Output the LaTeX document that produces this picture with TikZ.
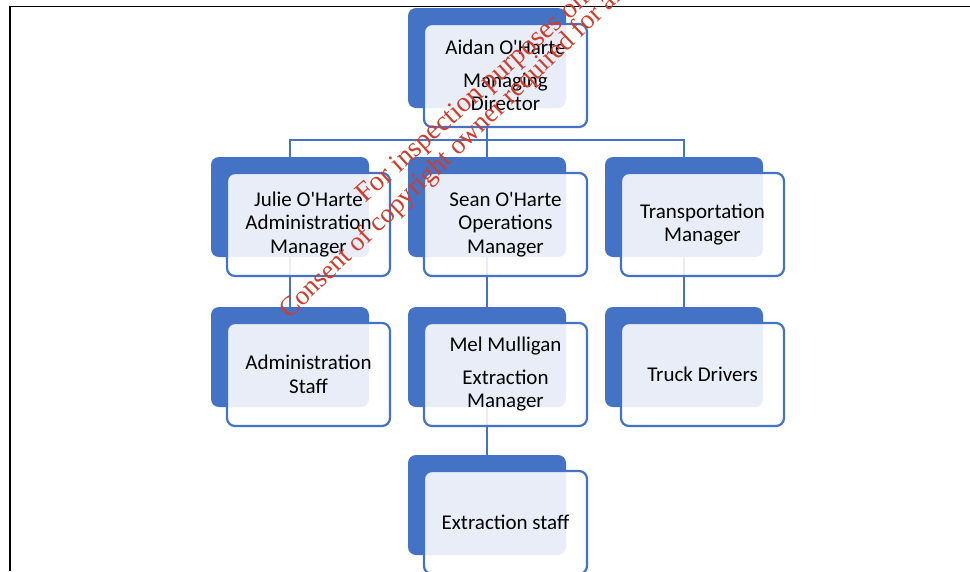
\documentclass[tikz,border=0pt]{standalone}
\usepackage{fontspec}
\setmainfont{Carlito}
\newfontfamily\wmfont{Liberation Serif}
\definecolor{orgblue}{RGB}{68,114,196}
\definecolor{wmred}{RGB}{205,62,45}
\tikzset{
  backbox/.style={fill=orgblue, draw=none, rounded corners=8pt, minimum width=158pt, minimum height=100pt, inner sep=0pt, outer sep=0pt, anchor=north west},
  frontbox/.style={fill=white, fill opacity=0.88, text opacity=1, draw=orgblue, line width=2.2pt, rounded corners=8pt, minimum width=163pt, minimum height=103pt, inner sep=0pt, outer sep=0pt, anchor=north west, align=center, font=\fontsize{21}{23.5}\selectfont},
  link/.style={draw=orgblue, line width=2pt},
  wmark/.style={rotate=44, anchor=base west, text=wmred, inner sep=0pt, font=\wmfont\fontsize{27}{27}\selectfont},
}
\newcommand\frontof[3]{\node[frontbox] (#1) at ($(#2.north west)+(16,16)$) {#3};}
\newcommand\apos{\textquotesingle}
\usetikzlibrary{calc}
\begin{document}
\begin{tikzpicture}[x=1pt,y=-1pt]
\useasboundingbox (0,0) rectangle (970,571);
\clip (0,0) rectangle (970,571);
\fill[white] (0,0) rectangle (970,571);
\draw[line width=1.6pt] (10,571) -- (10,6.5) -- (970,6.5);
% back boxes
\node[backbox] (aidanB) at (408,8) {};
\node[backbox] (julieB) at (211,157) {};
\node[backbox] (seanB) at (408,157) {};
\node[backbox] (transB) at (605,157) {};
\node[backbox] (adminB) at (211,307) {};
\node[backbox] (melB) at (408,307) {};
\node[backbox] (truckB) at (605,307) {};
\node[backbox] (extrB) at (408,455) {};
% connectors
\coordinate (bus) at (487.5,140);
\draw[link] (aidanB.south) -- (aidanB.south |- bus);
\draw[link] (julieB.north) |- (bus) -| (transB.north);
\draw[link] (aidanB.south |- bus) -- (seanB.north);
\draw[link] (julieB.south) -- (adminB.north);
\draw[link] (seanB.south) -- (melB.north);
\draw[link] (transB.south) -- (truckB.north);
\draw[link] (melB.south) -- (extrB.north);
% front boxes
\frontof{aidan}{aidanB}{Aidan O\apos Harte\\[9pt]Managing\\Director}
\frontof{julie}{julieB}{Julie O\apos Harte\\Administration\\Manager}
\frontof{sean}{seanB}{Sean O\apos Harte\\Operations\\Manager}
\frontof{trans}{transB}{Transportation\\Manager}
\frontof{admin}{adminB}{Administration\\Staff}
\frontof{mel}{melB}{Mel Mulligan\\[9pt]Extraction\\Manager}
\frontof{truck}{truckB}{Truck Drivers}
\frontof{extr}{extrB}{Extraction staff}
% watermark
\node[wmark, rotate=-2, font=\wmfont\fontsize{28}{28}\selectfont] (wm1) at (365,204) {For inspection purposes only.};
\node[wmark] (wm2) at (289,320) {Consent of copyright owner required for any other use.};
\end{tikzpicture}
\end{document}
